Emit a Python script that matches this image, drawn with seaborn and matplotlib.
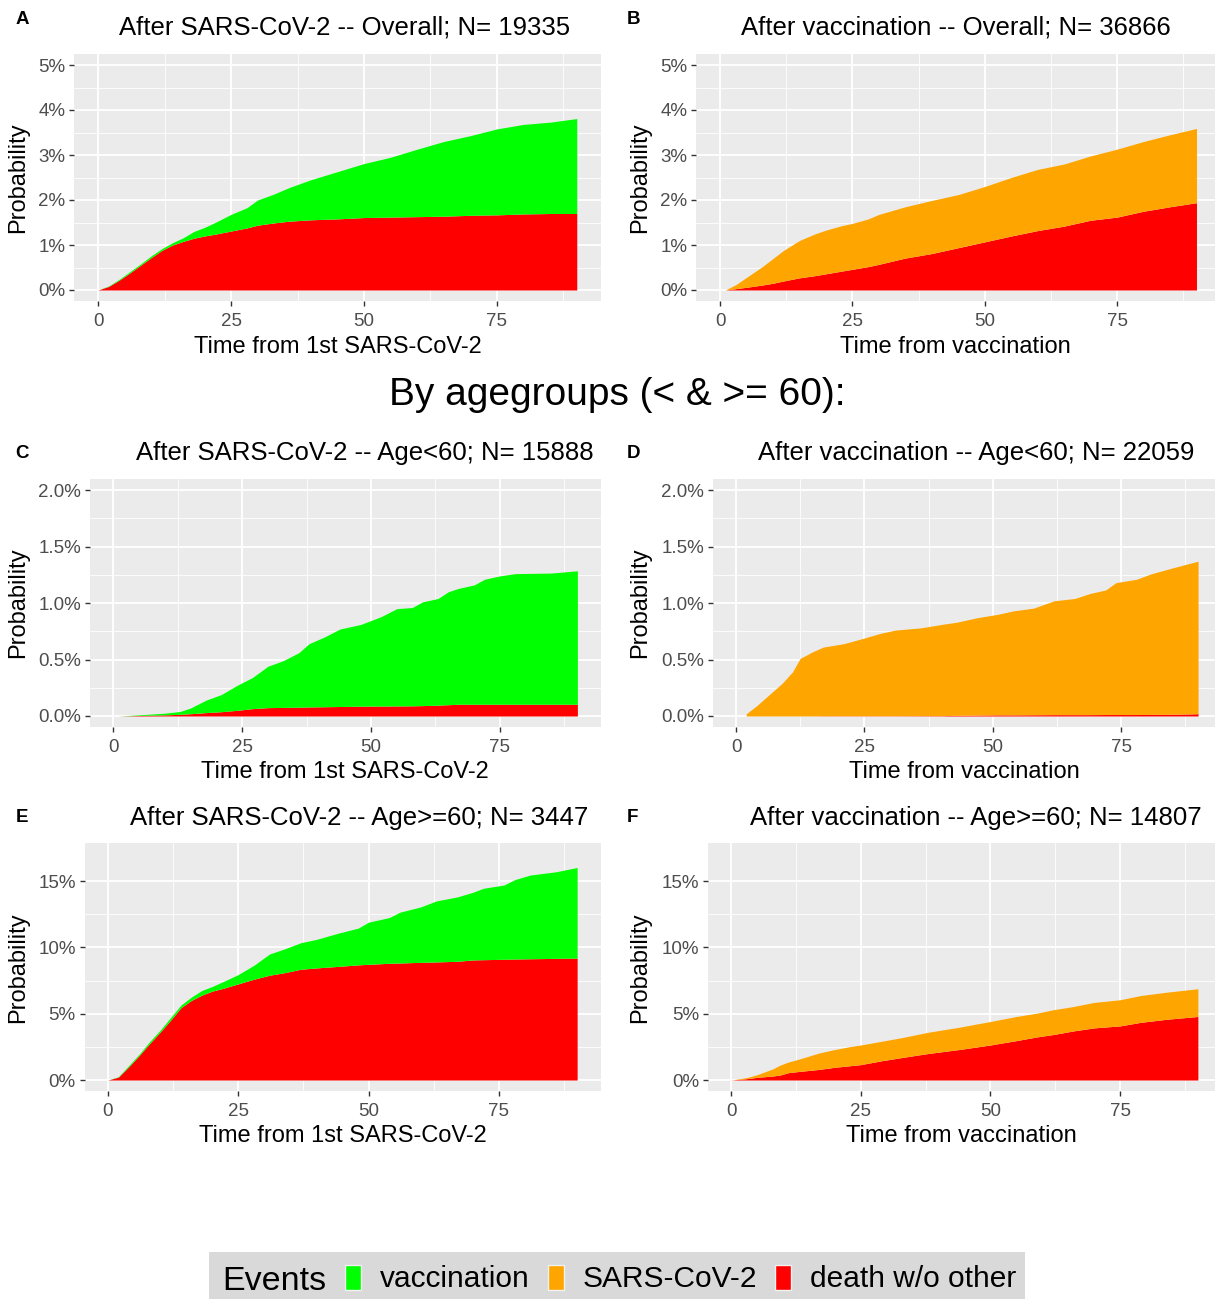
import numpy as np
import pandas as pd
import matplotlib
matplotlib.use("Agg")
import matplotlib.pyplot as plt
import seaborn as sns
from matplotlib.patches import Patch, Rectangle
from matplotlib.ticker import FixedLocator, FuncFormatter

# ---------------- data (cumulative probability, %) ----------------
# Panel A: After SARS-CoV-2 -- Overall
a_time  = [0, 2, 4, 6, 8, 10, 12, 14, 16, 18, 20, 22, 25, 28, 30, 33, 36, 40, 45, 50, 55, 60, 65, 70, 75, 80, 85, 90]
a_death = [0, .08, .22, .38, .55, .72, .88, 1.0, 1.08, 1.15, 1.2, 1.24, 1.31, 1.38, 1.44, 1.49, 1.53, 1.56, 1.58, 1.61, 1.62, 1.63, 1.64, 1.66, 1.67, 1.69, 1.70, 1.70]
a_total = [0, .09, .24, .41, .58, .76, .92, 1.05, 1.16, 1.3, 1.39, 1.5, 1.68, 1.83, 2.0, 2.13, 2.28, 2.45, 2.63, 2.81, 2.95, 3.13, 3.3, 3.43, 3.58, 3.68, 3.73, 3.81]

# Panel B: After vaccination -- Overall
b_time  = [1, 3, 5, 8, 10, 12, 15, 18, 20, 23, 25, 28, 30, 35, 40, 45, 50, 55, 60, 65, 70, 75, 80, 85, 90]
b_death = [0, .03, .06, .11, .15, .20, .27, .32, .36, .42, .46, .52, .57, .71, .81, .94, 1.07, 1.20, 1.32, 1.42, 1.55, 1.62, 1.75, 1.85, 1.94]
b_total = [0, .12, .28, .52, .70, .88, 1.10, 1.25, 1.33, 1.43, 1.48, 1.58, 1.68, 1.85, 1.99, 2.12, 2.30, 2.50, 2.68, 2.80, 2.98, 3.13, 3.30, 3.45, 3.59]

# Panel C: After SARS-CoV-2 -- Age<60
c_time  = [1, 5, 10, 13, 15, 18, 21, 24, 27, 30, 33, 36, 38, 41, 44, 48, 52, 55, 58, 60, 63, 65, 67, 70, 72, 75, 78, 85, 90]
c_death = [0, .005, .01, .015, .02, .03, .038, .05, .065, .074, .076, .078, .08, .082, .084, .087, .088, .089, .09, .092, .096, .1, .104, .104, .104, .104, .104, .104, .104]
c_total = [0, .01, .025, .04, .07, .14, .19, .27, .34, .44, .49, .56, .64, .70, .77, .81, .88, .95, .96, 1.01, 1.04, 1.10, 1.13, 1.16, 1.21, 1.24, 1.26, 1.265, 1.285]

# Panel D: After vaccination -- Age<60
d_time  = [2, 4, 6, 9, 11, 12.5, 15, 17, 21, 25, 28, 31, 36, 40, 43, 47, 51, 54, 58, 62, 66, 69, 72, 74, 78, 81, 85, 90]
d_death = [0, 0, 0, 0, 0, 0, 0, .002, .002, .002, .002, .002, .003, .003, .006, .008, .01, .01, .011, .012, .012, .012, .013, .013, .013, .014, .015, .02]
d_total = [.02, .09, .17, .29, .39, .51, .57, .61, .64, .69, .73, .76, .78, .81, .83, .87, .90, .93, .955, 1.02, 1.04, 1.085, 1.115, 1.18, 1.21, 1.26, 1.31, 1.37]

# Panel E: After SARS-CoV-2 -- Age>=60
e_time  = [0, 2, 4, 6, 8, 10, 12, 14, 16, 18, 20, 22, 25, 28, 31, 34, 37, 40, 44, 48, 50, 54, 56, 60, 63, 67, 70, 72, 76, 78, 81, 86, 90]
e_death = [0, .22, 1.0, 1.85, 2.75, 3.6, 4.5, 5.45, 6.0, 6.4, 6.7, 6.9, 7.25, 7.6, 7.9, 8.1, 8.35, 8.45, 8.56, 8.68, 8.72, 8.8, 8.82, 8.87, 8.9, 8.95, 9.05, 9.07, 9.1, 9.12, 9.14, 9.17, 9.19]
e_total = [0, .25, 1.1, 1.95, 2.9, 3.75, 4.7, 5.65, 6.25, 6.75, 7.05, 7.4, 7.95, 8.65, 9.5, 9.9, 10.35, 10.6, 11.05, 11.45, 11.9, 12.25, 12.65, 13.05, 13.5, 13.8, 14.15, 14.45, 14.7, 15.1, 15.45, 15.7, 16.02]

# Panel F: After vaccination -- Age>=60
f_time  = [0, 3, 5, 8, 9.5, 11, 12.5, 15, 17, 20, 23, 25, 29, 33, 38, 44, 50, 55, 59, 62, 66, 70, 75, 79, 84, 90]
f_death = [0, .1, .2, .30, .38, .55, .62, .72, .80, .96, 1.08, 1.16, 1.45, 1.7, 2.0, 2.3, 2.64, 2.97, 3.25, 3.42, 3.7, 3.93, 4.08, 4.35, 4.58, 4.79]
f_total = [0, .18, .40, .83, 1.13, 1.35, 1.51, 1.80, 2.04, 2.30, 2.52, 2.64, 2.92, 3.2, 3.6, 3.98, 4.41, 4.79, 5.04, 5.29, 5.54, 5.85, 6.05, 6.37, 6.62, 6.88]

titles = [
    "After SARS-CoV-2 -- Overall; N= 19335",
    "After vaccination -- Overall; N= 36866",
    "After SARS-CoV-2 -- Age<60; N= 15888",
    "After vaccination -- Age<60; N= 22059",
    "After SARS-CoV-2 -- Age>=60; N= 3447",
    "After vaccination -- Age>=60; N= 14807",
]
letters = ["A", "B", "C", "D", "E", "F"]
xlabels = ["Time from 1st SARS-CoV-2", "Time from vaccination"] * 3
x_breaks = [0, 25, 50, 75]
y_breaks_ab = [0, 1, 2, 3, 4, 5]
y_breaks_cd = [0, 0.5, 1.0, 1.5, 2.0]
y_breaks_ef = [0, 5, 10, 15]
event_labels = ["vaccination", "SARS-CoV-2", "death w/o other"]
event_colors = {"vaccination": "#00FF00", "SARS-CoV-2": "#FFA500", "death w/o other": "#FF0000"}

# ---------------- style ----------------
sns.set_theme(style="darkgrid", rc={
    "axes.facecolor": "#EBEBEB",
    "grid.color": "white",
    "axes.edgecolor": "none",
    "text.color": "black",
    "axes.labelcolor": "black",
})
plt.rcParams['font.family'] = ['Liberation Sans', 'DejaVu Sans']

W, H = 1215, 1299
fig = plt.figure(figsize=(W / 100, H / 100), dpi=100)

def px_axes(left, top, right, bottom):
    return fig.add_axes([left / W, 1 - bottom / H, (right - left) / W, (bottom - top) / H])

panels = [
    dict(t=a_time, d=a_death, tot=a_total, ev="vaccination", box=(74.1, 53.75, 600.7, 301.25),
         xlim=(-4.5, 94.5), ylim=(-0.25, 5.25), yb=y_breaks_ab, fmt="{:.0f}%", tcx=345, tcy=27, xl=336),
    dict(t=b_time, d=b_death, tot=b_total, ev="SARS-CoV-2", box=(696.2, 53.75, 1215, 301.25),
         xlim=(-4.5, 93.5), ylim=(-0.25, 5.25), yb=y_breaks_ab, fmt="{:.0f}%", tcx=956, tcy=27, xl=336),
    dict(t=c_time, d=c_death, tot=c_total, ev="vaccination", box=(89.8, 478.7, 600.6, 727.3),
         xlim=(-4.5, 94.5), ylim=(-0.1, 2.1), yb=y_breaks_cd, fmt="{:.1f}%", tcx=365, tcy=453, xl=761),
    dict(t=d_time, d=d_death, tot=d_total, ev="SARS-CoV-2", box=(712.9, 478.7, 1215, 727.3),
         xlim=(-4.5, 93.3), ylim=(-0.1, 2.1), yb=y_breaks_cd, fmt="{:.1f}%", tcx=976, tcy=453, xl=761),
    dict(t=e_time, d=e_death, tot=e_total, ev="vaccination", box=(84.5, 843.2, 600.6, 1091.3),
         xlim=(-4.5, 94.5), ylim=(-0.85, 17.85), yb=y_breaks_ef, fmt="{:.0f}%", tcx=359, tcy=818, xl=1125),
    dict(t=f_time, d=f_death, tot=f_total, ev="SARS-CoV-2", box=(707.7, 843.2, 1215, 1091.3),
         xlim=(-4.5, 93.3), ylim=(-0.85, 17.85), yb=y_breaks_ef, fmt="{:.0f}%", tcx=976, tcy=818, xl=1125),
]
letter_pos = [(22, 20), (633, 20), (22, 453), (633, 453), (22, 818), (632, 818)]

for i, p in enumerate(panels):
    left, top, right, bottom = p["box"]
    ax = px_axes(left, top, right, bottom)
    df = pd.DataFrame({"time": p["t"], "death": p["d"], "total": p["tot"]})
    ax.fill_between(df["time"], 0, df["death"], color=event_colors["death w/o other"], lw=0, zorder=2)
    ax.fill_between(df["time"], df["death"], df["total"], color=event_colors[p["ev"]], lw=0, zorder=2)
    ax.set_xlim(*p["xlim"])
    ax.set_ylim(*p["ylim"])
    ax.xaxis.set_major_locator(FixedLocator(x_breaks))
    ax.xaxis.set_minor_locator(FixedLocator([12.5, 37.5, 62.5, 87.5]))
    yb = p["yb"]
    ax.yaxis.set_major_locator(FixedLocator(yb))
    ax.yaxis.set_minor_locator(FixedLocator([(yb[k] + yb[k + 1]) / 2 for k in range(len(yb) - 1)]))
    fmt = p["fmt"]
    ax.yaxis.set_major_formatter(FuncFormatter(lambda v, pos, fmt=fmt: fmt.format(v)))
    ax.xaxis.set_major_formatter(FuncFormatter(lambda v, pos: f"{v:.0f}"))
    ax.grid(which="major", color="white", lw=1.3, zorder=0)
    ax.grid(which="minor", color="white", lw=0.6, zorder=0)
    ax.set_axisbelow(True)
    for s in ax.spines.values():
        s.set_visible(False)
    ax.tick_params(which="major", length=3.8, width=1.0, color="#333333", labelcolor="#4D4D4D",
                   labelsize=13.5, pad=2.5, bottom=True, left=True)
    ax.tick_params(axis="x", which="major", pad=4.5)
    ax.tick_params(which="minor", length=0)
    w_px = right - left
    h_px = bottom - top
    ax.set_xlabel(xlabels[i], fontsize=17, color="black")
    ax.xaxis.set_label_coords(0.5, -(p["xl"] - bottom) / h_px)
    ax.set_ylabel("Probability", fontsize=17, color="black")
    lx = 29 if i % 2 == 0 else 651
    ax.yaxis.set_label_coords((lx - left) / w_px, 0.5)
    ax.set_title(titles[i], fontsize=18.5, color="black",
                 x=(p["tcx"] - left) / w_px, y=1 + (top - p["tcy"]) / h_px, va="center", pad=0)
    lxp, lyp = letter_pos[i]
    fig.text(lxp / W, 1 - lyp / H, letters[i], fontsize=13.5, fontweight="bold",
             ha="center", va="center", color="black")

fig.text(617 / W, 1 - 395 / H, "By agegroups (< & >= 60):", fontsize=28, ha="center", va="center",
         color="black")

# legend
fig.patches.append(Rectangle((209 / W, 0), (1025 - 209) / W, (1299 - 1252) / H,
                             transform=fig.transFigure, facecolor="#D9D9D9", edgecolor="none"))
fig.text(222 / W, 1 - 1282 / H, "Events", fontsize=24.5, ha="left", va="center", color="black")
handles = [Patch(facecolor=event_colors[l], edgecolor="#F2F2F2", lw=1) for l in event_labels]
leg = fig.legend(handles, event_labels, loc="center left", bbox_to_anchor=(345 / W, 1 - 1279 / H),
                 ncol=3, frameon=False, fontsize=21.5, handlelength=0.55, handleheight=0.92,
                 handletextpad=0.62, columnspacing=0.6, borderpad=0, borderaxespad=0)
for t in leg.get_texts():
    t.set_color("black")

fig.savefig("out.png", dpi=100)
